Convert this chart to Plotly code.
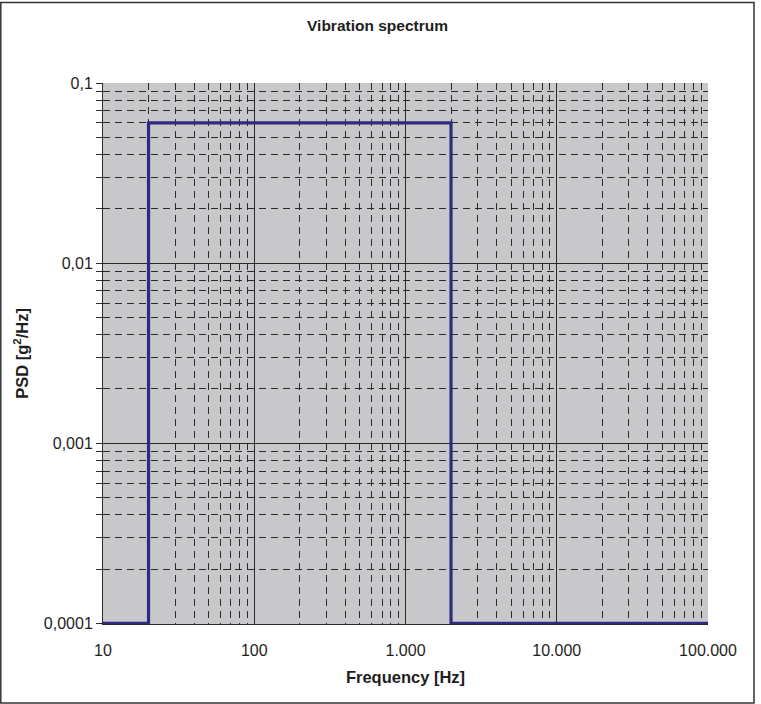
import plotly.graph_objects as go

# Data
freq_hz = [10, 20, 20, 2000, 2000, 100000]
psd_g2hz = [0.0001, 0.0001, 0.06, 0.06, 0.0001, 0.0001]

x_tick_vals = [10, 100, 1000, 10000, 100000]
x_tick_text = ["10", "100", "1.000", "10.000", "100.000"]
y_tick_vals = [0.0001, 0.001, 0.01, 0.1]
y_tick_text = ["0,0001", "0,001", "0,01", "0,1"]

x_minor = [m * 10 ** e for e in range(1, 5) for m in range(2, 10)]
y_minor = [m * 10 ** e for e in range(-4, -1) for m in range(2, 10)]

W, H = 761, 704
L, R, T, B = 103, 53, 83, 80
pw, ph = W - L - R, H - T - B

def px_to_paper_x(px):
    return (px - L) / pw

def px_to_paper_y(py):
    return (H - B - py) / ph

font_family = "Liberation Sans, Arial, sans-serif"
text_color = "#1e1e1e"
grid_color = "#2a2a2a"

fig = go.Figure()
fig.add_trace(go.Scatter(
    x=freq_hz, y=psd_g2hz, mode="lines",
    line=dict(color="#2e2b7f", width=3.2),
    showlegend=False, hoverinfo="x+y",
))

fig.update_layout(
    width=W, height=H,
    margin=dict(l=L, r=R, t=T, b=B, autoexpand=False),
    paper_bgcolor="white",
    plot_bgcolor="#c8c8ca",
    font=dict(family=font_family, size=16, color=text_color),
    title=dict(text="<b>Vibration spectrum</b>", x=377.5 / W, xref="container",
               y=1 - 26 / H, yref="container", xanchor="center", yanchor="middle",
               font=dict(size=15.5, color=text_color)),
    shapes=[dict(type="rect", xref="paper", yref="paper",
                 x0=px_to_paper_x(0.8), x1=px_to_paper_x(754),
                 y0=px_to_paper_y(703), y1=px_to_paper_y(2.5),
                 line=dict(color="#333333", width=1.5), layer="below")],
)

fig.update_xaxes(
    type="log", range=[1, 5], automargin=False,
    tickmode="array", tickvals=x_tick_vals, ticktext=x_tick_text,
    ticks="", ticklabelstandoff=12,
    showgrid=True, gridcolor=grid_color, gridwidth=1,
    showline=True, linecolor=grid_color, linewidth=1,
    zeroline=False,
    minor=dict(tickmode="array", tickvals=x_minor, showgrid=True,
               gridcolor=grid_color, gridwidth=1, griddash="7px,5px", ticks=""),
    title=dict(text="<b>Frequency [Hz]</b>", standoff=13, font=dict(size=16.5)),
    tickfont=dict(size=16),
)
fig.update_yaxes(
    type="log", range=[-4.004, -1], automargin=False,
    tickmode="array", tickvals=y_tick_vals, ticktext=y_tick_text,
    ticks="outside", ticklen=6, tickcolor=grid_color, tickwidth=1,
    showgrid=True, gridcolor=grid_color, gridwidth=1,
    showline=True, linecolor=grid_color, linewidth=1,
    zeroline=False,
    minor=dict(tickmode="array", tickvals=y_minor, showgrid=True,
               gridcolor=grid_color, gridwidth=1, griddash="7px,5px",
               ticks="outside", ticklen=6, tickcolor=grid_color),
    title=dict(text="<b>PSD [g<sup>2</sup>/Hz]</b>", standoff=11, font=dict(size=16.5)),
    tickfont=dict(size=16),
)

fig.write_html("out.html", config={"displayModeBar": False},
               post_script="document.body.style.margin='0px';")
